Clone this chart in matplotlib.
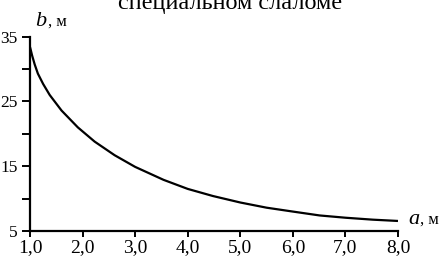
import matplotlib
matplotlib.use("Agg")
import matplotlib.pyplot as plt

# Data
a_vals = [1.0, 1.013, 1.04, 1.09, 1.15, 1.25, 1.375, 1.6, 1.91, 2.23, 2.61,
          3.0, 3.54, 4.0, 4.48, 5.0, 5.5, 6.0, 6.51, 7.0, 7.52, 8.0]
b_vals = [33.4, 33.0, 32.1, 30.7, 29.3, 27.7, 26.0, 23.6, 21.0, 18.8, 16.7,
          14.9, 12.9, 11.5, 10.4, 9.4, 8.6, 8.0, 7.4, 7.05, 6.75, 6.55]
x_ticks = [1, 2, 3, 4, 5, 6, 7, 8]
x_labels = ["1,0", "2,0", "3,0", "4,0", "5,0", "6,0", "7,0", "8,0"]
y_ticks = [5, 10, 15, 20, 25, 30, 35]
y_labels = ["5", "", "15", "", "25", "", "35"]
title_text = "специальном слаломе"

plt.rcParams['font.family'] = ['Liberation Serif', 'DejaVu Serif']
plt.rcParams['mathtext.fontset'] = 'custom'
plt.rcParams['mathtext.it'] = 'Liberation Serif:italic'
plt.rcParams['mathtext.rm'] = 'Liberation Serif'

fig = plt.figure(figsize=(4.43, 2.59), dpi=100)
ax = fig.add_axes([30/443, 1-231/259, 368/443, (231-36.7)/259])

ax.plot(a_vals, b_vals, color='black', lw=1.6, solid_joinstyle='round',
        solid_capstyle='butt')
ax.set_xlim(1, 8)
ax.set_ylim(5, 35)
for s in ['top', 'right']:
    ax.spines[s].set_visible(False)
for s in ['left', 'bottom']:
    ax.spines[s].set_linewidth(1.6)
ax.set_xticks(x_ticks)
ax.set_xticklabels(x_labels, fontsize=14)
ax.set_yticks(y_ticks)
ax.set_yticklabels(y_labels, fontsize=12.5)
ax.tick_params(axis='x', direction='out', length=4.5, width=1.4, pad=1.5)
ax.tick_params(axis='y', direction='out', length=5.5, width=1.4, pad=3.5)

fig.text(0.519, 1 - 9/259, title_text, ha='center', va='baseline', fontsize=17.5)
fig.text(35/443, 1 - 26/259, r'$\mathit{b}$', ha='left', va='baseline', fontsize=16)
fig.text(48/443, 1 - 26/259, ', м', ha='left', va='baseline', fontsize=12)
fig.text(408/443, 1 - 224/259, r'$\mathit{a}$', ha='left', va='baseline', fontsize=16)
fig.text(420/443, 1 - 224/259, ', м', ha='left', va='baseline', fontsize=12)

fig.savefig('out.png', dpi=100)
